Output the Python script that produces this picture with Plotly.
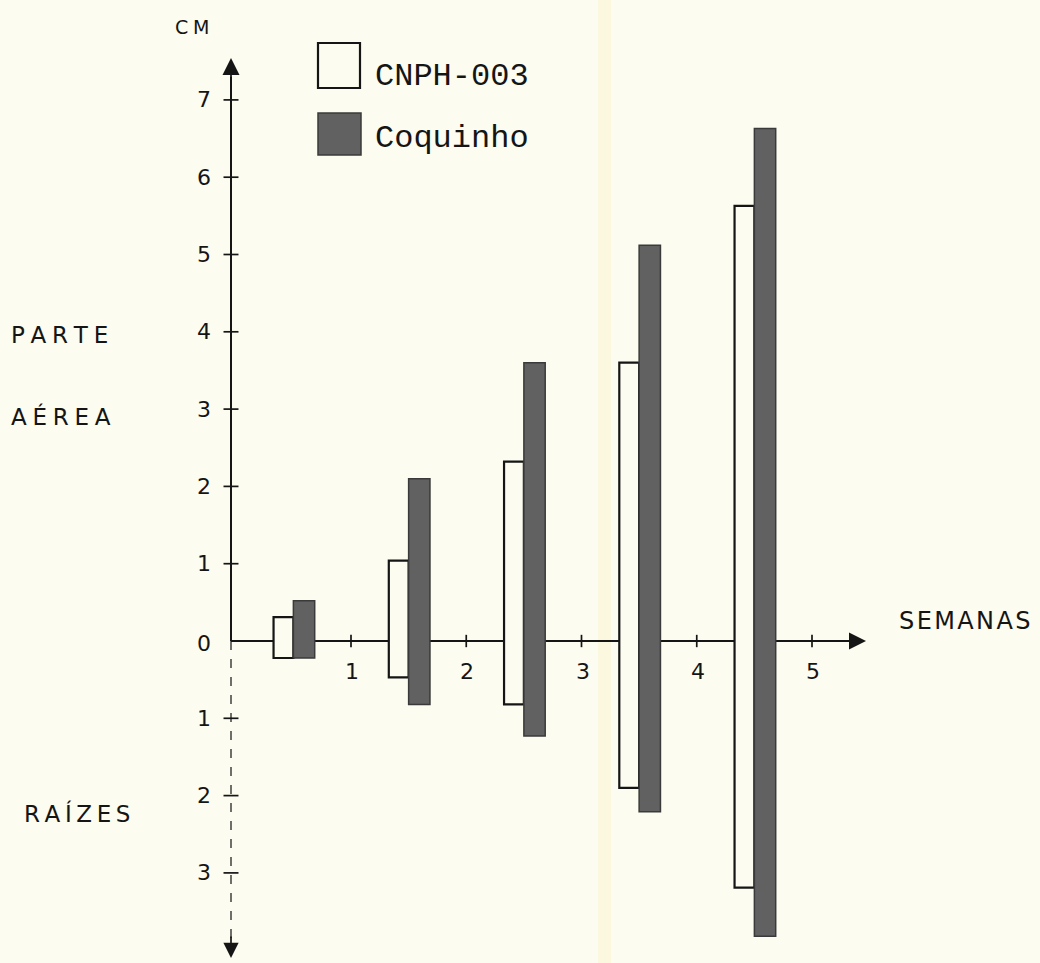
import plotly.graph_objects as go

# ---------------- data ----------------
weeks = [0.5, 1.5, 2.5, 3.5, 4.5]
series_names = ["CNPH-003", "Coquinho"]
cnph_aerea = [0.31, 1.04, 2.32, 3.60, 5.63]      # parte aérea (cm)
coq_aerea = [0.52, 2.10, 3.60, 5.12, 6.63]
cnph_raizes = [0.22, 0.47, 0.82, 1.90, 3.19]     # raízes (cm, downward)
coq_raizes = [0.22, 0.82, 1.23, 2.21, 3.82]
x_ticks = [1, 2, 3, 4, 5]
x_tick_labels = ["1", "2", "3", "4", "5"]
y_ticks = [-3, -2, -1, 0, 1, 2, 3, 4, 5, 6, 7]
y_tick_labels = ["3", "2", "1", "0", "1", "2", "3", "4", "5", "6", "7"]

# ---------------- layout helpers ----------------
W, H, OFF = 1040, 963, 0
X0PX, XSC = 235.75, 115.25
Y0PX, YSC = 641.0, 77.3


def dx(px):
    return (px - X0PX) / XSC


def dy(py):
    return (Y0PX - py) / YSC


BG = "#fcfcf0"
INK = "#151515"
DARK = "#616161"
SANS = "DejaVu Sans"
MONO = "Liberation Mono"

fig = go.Figure()

fig.add_trace(go.Bar(
    x=weeks,
    y=[a + r for a, r in zip(cnph_aerea, cnph_raizes)],
    base=[-r for r in cnph_raizes],
    offset=-0.172, width=0.172,
    marker=dict(color=BG, line=dict(color=INK, width=2.2)),
    name=series_names[0], showlegend=False,
))
fig.add_trace(go.Bar(
    x=weeks,
    y=[a + r for a, r in zip(coq_aerea, coq_raizes)],
    base=[-r for r in coq_raizes],
    offset=0.0, width=0.185,
    marker=dict(color=DARK, line=dict(color="#3a3a3a", width=1.5)),
    name=series_names[1], showlegend=False,
))

shapes = []
annotations = []

# faint paper band (scan)
shapes.append(dict(type="rect", xref="x", yref="y", x0=dx(598), x1=dx(611),
                   y0=dy(OFF + H), y1=dy(OFF), fillcolor="#fbf8df",
                   line=dict(width=0), layer="below"))

ax_x = dx(231)
# y axis upper (solid) and lower (dashed)
shapes.append(dict(type="line", xref="x", yref="y", x0=ax_x, x1=ax_x, y0=0, y1=7.3,
                   line=dict(color=INK, width=2), layer="below"))
shapes.append(dict(type="line", xref="x", yref="y", x0=ax_x, x1=ax_x, y0=0, y1=-3.85,
                   line=dict(color="#333333", width=1.4, dash="dash"), layer="below"))
# x axis
shapes.append(dict(type="line", xref="x", yref="y", x0=ax_x, x1=dx(850), y0=0, y1=0,
                   line=dict(color=INK, width=2), layer="below"))

# arrow heads
annotations.append(dict(x=ax_x, y=dy(58), ax=ax_x, ay=dy(85), xref="x", yref="y",
                        axref="x", ayref="y", showarrow=True, arrowhead=2,
                        arrowsize=2.0, arrowwidth=1.7, arrowcolor=INK, text=""))
annotations.append(dict(x=ax_x, y=dy(958), ax=ax_x, ay=dy(935), xref="x", yref="y",
                        axref="x", ayref="y", showarrow=True, arrowhead=2,
                        arrowsize=1.8, arrowwidth=1.7, arrowcolor=INK, text=""))
annotations.append(dict(x=dx(866), y=0, ax=dx(835), ay=0, xref="x", yref="y",
                        axref="x", ayref="y", showarrow=True, arrowhead=2,
                        arrowsize=2.0, arrowwidth=1.7, arrowcolor=INK, text=""))

# ticks
for v in x_ticks:
    shapes.append(dict(type="line", xref="x", yref="y", x0=v, x1=v,
                       y0=-0.08, y1=0.08, line=dict(color=INK, width=1.7), layer="below"))
for v in y_ticks:
    if v == 0:
        continue
    shapes.append(dict(type="line", xref="x", yref="y", x0=ax_x - 0.065, x1=ax_x + 0.065,
                       y0=v, y1=v, line=dict(color=INK, width=1.7), layer="below"))

# tick labels
for v, t in zip(x_ticks, x_tick_labels):
    annotations.append(dict(x=v + 0.01, y=dy(671), xref="x", yref="y", text=t,
                            showarrow=False, font=dict(family=SANS, size=22, color=INK)))
for v, t in zip(y_ticks, y_tick_labels):
    annotations.append(dict(x=dx(204), y=v - (0.03 if v == 0 else 0), xref="x", yref="y",
                            text=t, showarrow=False,
                            font=dict(family=SANS, size=22, color=INK)))

# axis titles / side labels
annotations.append(dict(x=dx(192), y=dy(27), xref="x", yref="y", text="C\u2005M",
                        showarrow=False, font=dict(family=SANS, size=19, color=INK)))
annotations.append(dict(x=dx(897), y=dy(621), xref="x", yref="y", xanchor="left",
                        text="\u200a".join("SEMANAS"), showarrow=False,
                        font=dict(family=SANS, size=24, color=INK)))
annotations.append(dict(x=dx(9), y=dy(335), xref="x", yref="y", xanchor="left",
                        text="\u2005".join("PARTE"), showarrow=False,
                        font=dict(family=SANS, size=23, color=INK)))
annotations.append(dict(x=dx(9), y=dy(416), xref="x", yref="y", xanchor="left",
                        text="\u2005".join("AÉREA"), showarrow=False,
                        font=dict(family=SANS, size=23, color=INK)))
annotations.append(dict(x=dx(22), y=dy(813), xref="x", yref="y", xanchor="left",
                        text="\u2009".join("RAÍZES"), showarrow=False,
                        font=dict(family=SANS, size=23, color=INK)))

# legend (drawn)
shapes.append(dict(type="rect", xref="x", yref="y", x0=dx(318), x1=dx(360),
                   y0=dy(88), y1=dy(43), fillcolor=BG, line=dict(color=INK, width=2.2)))
shapes.append(dict(type="rect", xref="x", yref="y", x0=dx(318), x1=dx(361),
                   y0=dy(155), y1=dy(113), fillcolor=DARK, line=dict(color="#3a3a3a", width=1.5)))
annotations.append(dict(x=dx(373), y=dy(76), xref="x", yref="y", xanchor="left",
                        text=series_names[0], showarrow=False,
                        font=dict(family=MONO, size=32, color=INK)))
annotations.append(dict(x=dx(373), y=dy(138), xref="x", yref="y", xanchor="left",
                        text=series_names[1], showarrow=False,
                        font=dict(family=MONO, size=32, color=INK)))

fig.update_layout(
    width=W, height=H,
    margin=dict(l=0, r=0, t=0, b=0),
    paper_bgcolor=BG, plot_bgcolor=BG,
    barmode="overlay",
    shapes=shapes, annotations=annotations,
    xaxis=dict(range=[dx(OFF), dx(OFF + W)], visible=False, fixedrange=True),
    yaxis=dict(range=[dy(OFF + H), dy(OFF)], visible=False, fixedrange=True),
    showlegend=False,
)

fig.write_html(
    "out.html",
    config={"displayModeBar": False},
    post_script="document.body.style.margin='0';document.body.style.overflow='hidden';"
                "document.body.style.background='" + BG + "';",
)
